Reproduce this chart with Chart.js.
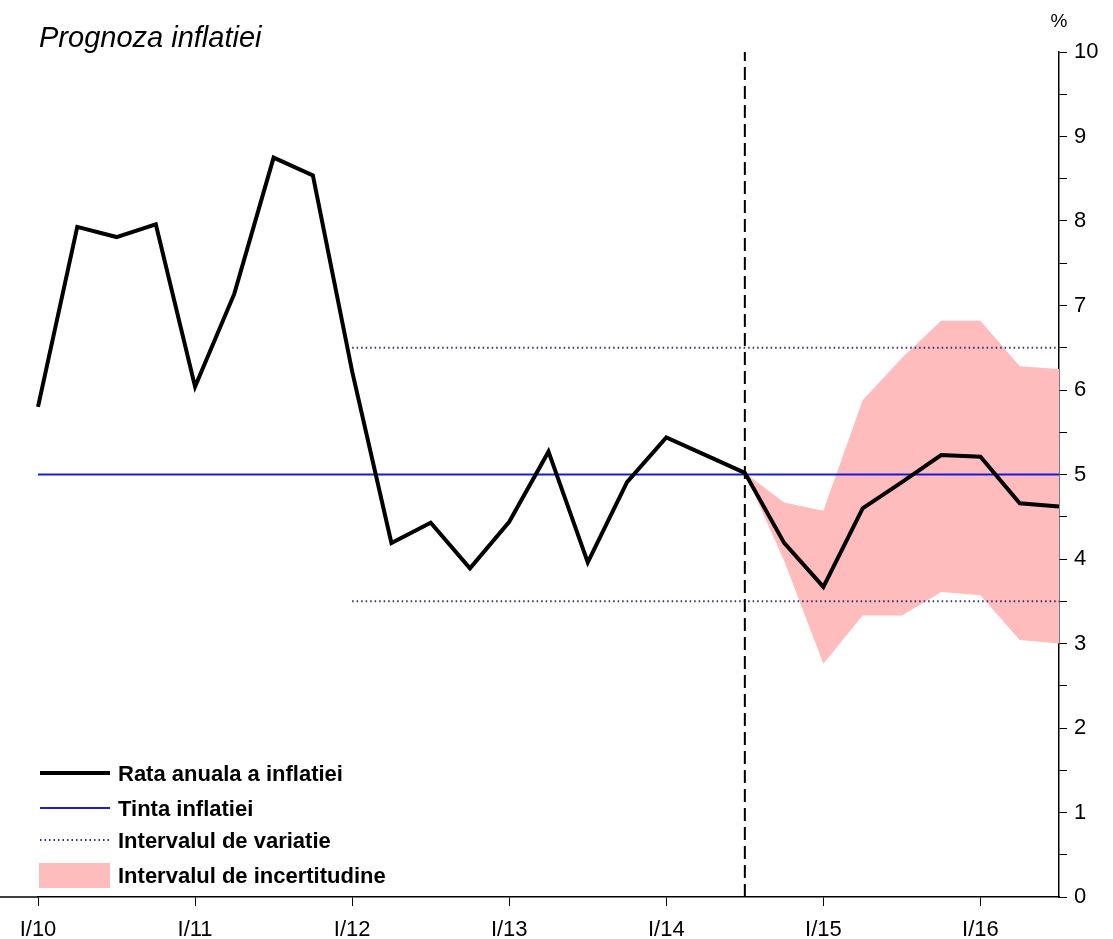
<!DOCTYPE html>
<html>
<head>
<meta charset="utf-8">
<style>
  html, body { margin: 0; padding: 0; background: #fff; }
  #chart { display: block; }
</style>
<script src="https://cdn.jsdelivr.net/npm/chart.js@4/dist/chart.umd.min.js"></script>
</head>
<body>
<canvas id="chart" width="1113" height="939"></canvas>
<script>
const quarters = [
    'I/10', 'II/10', 'III/10', 'IV/10',
    'I/11', 'II/11', 'III/11', 'IV/11',
    'I/12', 'II/12', 'III/12', 'IV/12',
    'I/13', 'II/13', 'III/13', 'IV/13',
    'I/14', 'II/14', 'III/14', 'IV/14',
    'I/15', 'II/15', 'III/15', 'IV/15',
    'I/16', 'II/16', 'III/16'
]

// annual inflation rate, %
const inflation = [5.80, 7.93, 7.81, 7.96, 6.04, 7.14, 8.75, 8.54, 6.22, 4.19, 4.43, 3.89, 4.44, 5.27, 3.96, 4.91, 5.44, 5.23, 5.02, 4.19, 3.67, 4.60, 4.91, 5.23, 5.21, 4.66, 4.62]

// uncertainty band (forecast only)
const bandUpper = [null, null, null, null, null, null, null, null, null, null, null, null, null, null, null, null, null, null, 5.02, 4.67, 4.57, 5.88, 6.38, 6.82, 6.82, 6.28, 6.25]
const bandLower = [null, null, null, null, null, null, null, null, null, null, null, null, null, null, null, null, null, null, 5.02, 3.98, 2.76, 3.33, 3.33, 3.61, 3.57, 3.04, 3.00]

const inflationTarget = 5
const variationHigh = 6.5
const variationLow = 3.5
const variationStart = 'I/12'
const forecastStart = 'III/14'

const yTicks = {min: 0, max: 10, step: 0.5}

const chartTitle = 'Prognoza inflatiei'
const unitLabel = '%'
const legendLabels = ['Rata anuala a inflatiei', 'Tinta inflatiei', 'Intervalul de variatie', 'Intervalul de incertitudine']

const lastQuarter = quarters[quarters.length - 1]
const FONT = '"Liberation Sans", Arial, sans-serif'

const overlay = {
    id: 'overlay',
    afterDraw(chart) {
        const {ctx, chartArea} = chart
        ctx.save()
        ctx.fillStyle = '#000'
        ctx.textBaseline = 'alphabetic'

        ctx.font = 'italic 29px ' + FONT
        ctx.textAlign = 'left'
        ctx.fillText(chartTitle, 39, 47)

        ctx.font = '19px ' + FONT
        ctx.textAlign = 'center'
        ctx.fillText(unitLabel, chartArea.right, 27)

        // axis line runs past the first quarter to the left edge
        ctx.strokeStyle = '#000'
        ctx.lineWidth = 1.5
        ctx.beginPath()
        ctx.moveTo(0, chartArea.bottom)
        ctx.lineTo(chartArea.left, chartArea.bottom)
        ctx.stroke()

        // legend
        const rows = [chartArea.bottom - 124, chartArea.bottom - 89, chartArea.bottom - 57, chartArea.bottom - 22]
        const x0 = 40, x1 = 110
        ctx.textAlign = 'left'
        ctx.font = 'bold 22px ' + FONT

        ctx.lineWidth = 4
        ctx.strokeStyle = '#000'
        ctx.beginPath(); ctx.moveTo(x0, rows[0]); ctx.lineTo(x1, rows[0]); ctx.stroke()

        ctx.lineWidth = 2
        ctx.strokeStyle = '#1a1ad8'
        ctx.beginPath(); ctx.moveTo(x0, rows[1]); ctx.lineTo(x1, rows[1]); ctx.stroke()

        ctx.lineWidth = 2
        ctx.strokeStyle = '#30307a'
        ctx.setLineDash([1.5, 3])
        ctx.beginPath(); ctx.moveTo(x0, rows[2]); ctx.lineTo(x1, rows[2]); ctx.stroke()
        ctx.setLineDash([])

        ctx.fillStyle = '#ffbcbc'
        ctx.fillRect(39, rows[3] - 12, 71, 25)

        ctx.fillStyle = '#000'
        legendLabels.forEach((label, i) => {
            ctx.fillText(label, 118, rows[i] + 8)
        })
        ctx.restore()
    }
}

new Chart(document.getElementById('chart'), {
    type: 'line',
    data: {
        labels: quarters,
        datasets: [
            {
                label: legendLabels[0],
                data: inflation,
                borderColor: '#000',
                borderWidth: 4,
                pointRadius: 0,
                order: 0
            },
            {
                label: 'forecast',
                data: [{x: forecastStart, y: yTicks.min}, {x: forecastStart, y: yTicks.max}],
                borderColor: '#000',
                borderWidth: 2,
                borderDash: [13, 6],
                pointRadius: 0,
                order: 1
            },
            {
                label: legendLabels[1],
                data: [{x: quarters[0], y: inflationTarget}, {x: lastQuarter, y: inflationTarget}],
                borderColor: '#1a1ad8',
                borderWidth: 2,
                pointRadius: 0,
                order: 2
            },
            {
                label: legendLabels[2],
                data: [{x: variationStart, y: variationHigh}, {x: lastQuarter, y: variationHigh}],
                borderColor: '#30307a',
                borderWidth: 2,
                borderDash: [1.5, 3],
                pointRadius: 0,
                order: 3
            },
            {
                label: legendLabels[2] + ' low',
                data: [{x: variationStart, y: variationLow}, {x: lastQuarter, y: variationLow}],
                borderColor: '#30307a',
                borderWidth: 2,
                borderDash: [1.5, 3],
                pointRadius: 0,
                order: 3
            },
            {
                label: legendLabels[3],
                data: bandUpper,
                borderWidth: 0,
                borderColor: 'rgba(0,0,0,0)',
                backgroundColor: '#ffbcbc',
                pointRadius: 0,
                fill: '+1',
                order: 5
            },
            {
                label: legendLabels[3] + ' low',
                data: bandLower,
                borderWidth: 0,
                borderColor: 'rgba(0,0,0,0)',
                pointRadius: 0,
                fill: false,
                order: 5
            }
        ]
    },
    options: {
        responsive: false,
        animation: false,
        layout: {
            padding: {left: 38, top: 52, right: 0, bottom: 0}
        },
        plugins: {
            legend: {display: false},
            tooltip: {enabled: false}
        },
        scales: {
            x: {
                type: 'category',
                afterFit: scale => { scale.height = 42 },
                border: {color: '#000', width: 1.5},
                grid: {
                    drawOnChartArea: false,
                    tickLength: 9,
                    tickWidth: 1,
                    tickColor: ctx => (quarters[ctx.index] || '').startsWith('I/') ? '#000' : 'rgba(0,0,0,0)'
                },
                ticks: {
                    autoSkip: false,
                    maxRotation: 0,
                    padding: 11,
                    color: '#000',
                    font: {family: FONT, size: 22},
                    callback: (v, i) => quarters[i].startsWith('I/') ? quarters[i] : ''
                }
            },
            y: {
                position: 'right',
                min: yTicks.min,
                max: yTicks.max,
                afterFit: scale => { scale.width = 54 },
                border: {color: '#000', width: 1.5},
                grid: {
                    drawOnChartArea: false,
                    tickLength: 8,
                    tickWidth: 1,
                    tickColor: '#000'
                },
                ticks: {
                    stepSize: yTicks.step,
                    padding: 7,
                    color: '#000',
                    font: {family: FONT, size: 22},
                    callback: v => Number.isInteger(v) ? v : ''
                }
            }
        }
    },
    plugins: [overlay]
})
</script>
</body>
</html>
